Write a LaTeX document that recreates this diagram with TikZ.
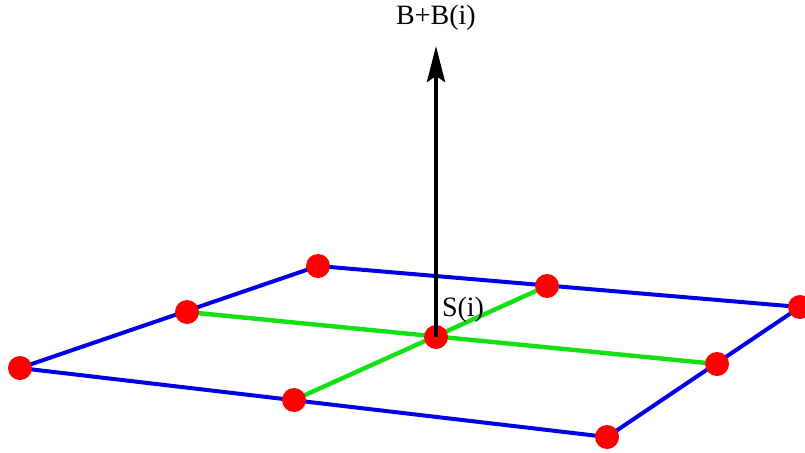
\documentclass[tikz,border=0pt]{standalone}
\usepackage{fontspec}
\setmainfont{Liberation Serif}
\usetikzlibrary{arrows.meta}
\begin{document}
\begin{tikzpicture}[x=1pt,y=-1pt,
  edgeb/.style={draw={rgb,255:red,0;green,0;blue,230}, line width=4pt},
  edgeg/.style={draw={rgb,255:red,20;green,225;blue,20}, line width=4.4pt},
  lbl/.style={font=\fontsize{28}{31}\selectfont, inner sep=0pt}]
\useasboundingbox (0,0) rectangle (805,452);
\coordinate (c1) at (20,368);
\coordinate (c2) at (318,266);
\coordinate (c3) at (800,307);
\coordinate (c4) at (607,437);
\coordinate (m1) at (187,312);
\coordinate (m2) at (547,286);
\coordinate (m3) at (717,364);
\coordinate (m4) at (294,400);
\coordinate (ce) at (436,337);
\coordinate (top) at (436,46);
\draw[edgeb] (c1) -- (c2) -- (c3) -- (c4) -- cycle;
\draw[edgeg] (m1) -- (m3);
\draw[edgeg] (m4) -- (m2);
\foreach \p in {c1,c2,c3,c4,m1,m2,m3,m4,ce}
  \fill[red] (\p) ellipse (12pt and 12pt);
\draw[line width=4pt, -{Stealth[length=36pt, width=18pt, inset=6pt]}] (ce) -- (top);
\node[lbl] (b) at (436,18) {B+B(i)};
\node[lbl] (s) at (463,310) {S(i)};
\end{tikzpicture}
\end{document}
